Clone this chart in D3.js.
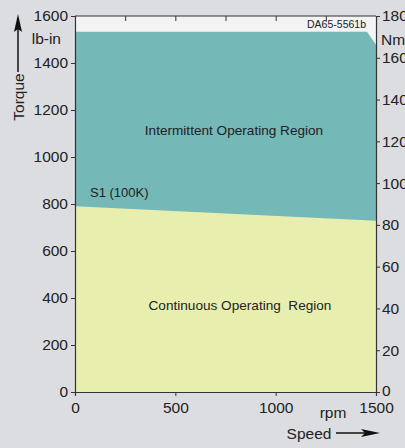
<!DOCTYPE html>
<html lang="en">
<head>
    <meta charset="UTF-8">
    <title>Torque / Speed</title>
    <style>
        body { margin: 0; background: #dcdde0; }
        svg { display: block; font-family: "Liberation Sans", Arial, sans-serif; }
    </style>
</head>
<body>
    <svg id="chart" width="405" height="448"></svg>

    <script src="https://d3js.org/d3.v7.min.js"></script>
    <script>
        // data
        const speedTicks = [0, 500, 1000, 1500];
        const topTicks = [250, 500, 750, 1000, 1250];
        const torqueTicks = [0, 200, 400, 600, 800, 1000, 1200, 1400, 1600];
        const nmTicks = [0, 20, 40, 60, 80, 100, 120, 140, 160, 180];

        // S1 (continuous) boundary, lb-in
        const s1Speed = [0, 1500];
        const s1Torque = [790, 729];

        // intermittent envelope, lb-in
        const peakSpeed = [0, 1455, 1500];
        const peakTorque = [1533, 1533, 1478];

        const svg = d3.select('#chart');
        const mLeft = 75, mRight = 376, mTop = 16, mBottom = 392;

        const x = d3.scaleLinear().domain([0, 1500]).range([mLeft, mRight]);
        const y = d3.scaleLinear().domain([0, 1600]).range([mBottom, mTop]);
        const yNm = d3.scaleLinear().domain([0, 180]).range([mBottom, mTop]);

        // plot background above envelope
        svg.append('rect')
            .attr('x', mLeft).attr('y', mTop)
            .attr('width', mRight - mLeft).attr('height', mBottom - mTop)
            .attr('fill', '#f3f3f3');

        // intermittent region
        const peakPts = [[0, 0]];
        peakSpeed.forEach((s, i) => peakPts.push([s, peakTorque[i]]));
        peakPts.push([1500, 0]);
        svg.append('path')
            .attr('d', d3.line().x(d => x(d[0])).y(d => y(d[1]))(peakPts) + 'Z')
            .attr('fill', '#74b8b8');

        // continuous region
        const s1Pts = [[0, 0]];
        s1Speed.forEach((s, i) => s1Pts.push([s, s1Torque[i]]));
        s1Pts.push([1500, 0]);
        svg.append('path')
            .attr('d', d3.line().x(d => x(d[0])).y(d => y(d[1]))(s1Pts) + 'Z')
            .attr('fill', '#e8efae');

        const axisColor = '#333';
        const fmt = d3.format('d');

        // axes
        const gx = svg.append('g')
            .attr('transform', `translate(0,${mBottom})`)
            .call(d3.axisBottom(x).tickValues(speedTicks).tickFormat(fmt).tickSize(4).tickPadding(6));
        const gTop = svg.append('g')
            .attr('transform', `translate(0,${mTop})`)
            .call(d3.axisBottom(x).tickValues(topTicks).tickSize(5).tickFormat(''));
        const gy = svg.append('g')
            .attr('transform', `translate(${mLeft},0)`)
            .call(d3.axisLeft(y).tickValues(torqueTicks).tickFormat(fmt).tickSize(4).tickPadding(3));
        const gr = svg.append('g')
            .attr('transform', `translate(${mRight},0)`)
            .call(d3.axisRight(yNm).tickValues(nmTicks).tickFormat(fmt).tickSize(4).tickPadding(2));

        [gx, gTop, gy, gr].forEach(g => {
            g.select('.domain').attr('stroke', axisColor).attr('stroke-width', 1.2);
            g.selectAll('.tick line').attr('stroke', axisColor);
            g.selectAll('.tick text')
                .attr('fill', '#222')
                .style('font-size', '15.5px')
                .style('font-family', '"Liberation Sans", Arial, sans-serif');
        });
        gTop.select('.domain').attr('d', `M${mLeft},0H${mRight}`);
        // bottom-right "0" sits just above the axis end, as in the original
        gr.selectAll('.tick text').filter(d => d === 0).attr('dy', '0.2em');

        // labels
        const txt = (tx, ty, s, size, anchor) => svg.append('text')
            .attr('x', tx).attr('y', ty)
            .attr('text-anchor', anchor || 'start')
            .attr('fill', '#222')
            .style('font-size', size + 'px')
            .style('white-space', 'pre')
            .text(s);

        txt(234, 135, 'Intermittent Operating Region', 13.6, 'middle');
        txt(240, 310, 'Continuous Operating  Region', 13.6, 'middle');
        txt(90, 197, 'S1 (100K)', 13);
        txt(366, 28, 'DA65-5561b', 10.5, 'end');
        txt(61, 44, 'lb-in', 15.5, 'end');
        txt(381, 45, 'Nm', 15.5);
        txt(333, 418, 'rpm', 15.5, 'middle');
        txt(309, 439, 'Speed', 15.5, 'middle');

        svg.append('text')
            .attr('transform', 'translate(24,97) rotate(-90)')
            .attr('text-anchor', 'middle')
            .attr('fill', '#222')
            .style('font-size', '15.5px')
            .text('Torque');

        // arrows
        const arrow = (x1, y1, x2, y2) => {
            svg.append('line')
                .attr('x1', x1).attr('y1', y1).attr('x2', x2).attr('y2', y2)
                .attr('stroke', '#111').attr('stroke-width', 1.5);
        };
        arrow(18, 72, 18, 26);
        svg.append('path').attr('d', 'M18,14 L14,32 L18,29 L22,32 Z').attr('fill', '#111');
        arrow(336, 433, 366, 433);
        svg.append('path').attr('d', 'M380,433 L361,429 L365,433 L361,437 Z').attr('fill', '#111');
    </script>
</body>
</html>
